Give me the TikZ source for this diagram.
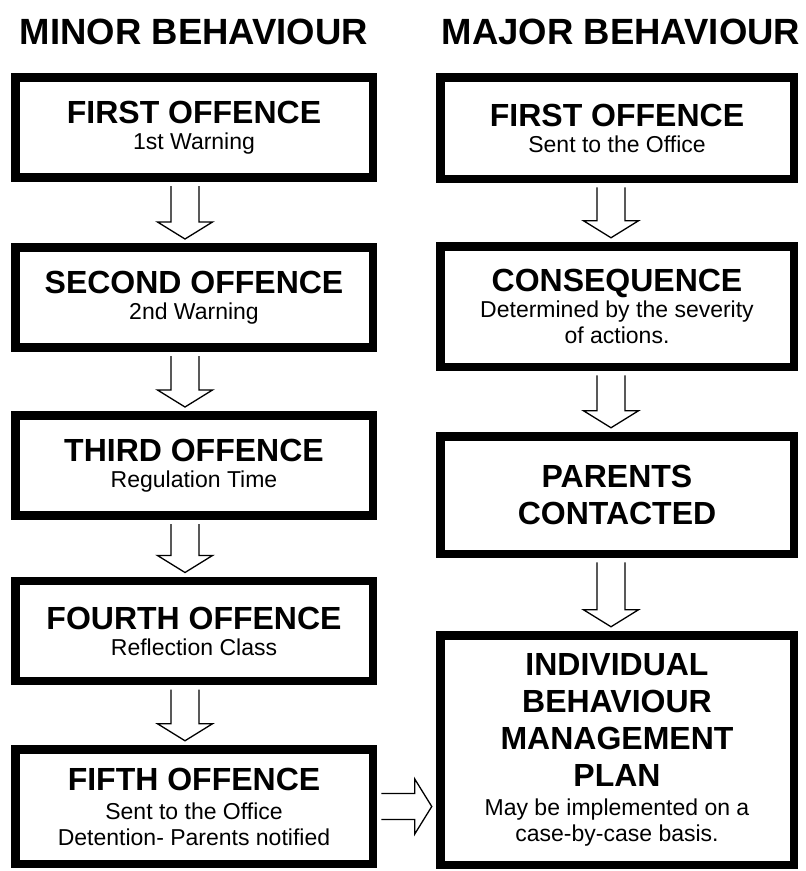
\documentclass[tikz,border=0pt]{standalone}
\usepackage{fontspec}
\setmainfont{Liberation Sans}
\usetikzlibrary{positioning, calc}

\newcommand{\hd}{\fontsize{32}{37}\selectfont\bfseries}
\newcommand{\bd}{\fontsize{23}{26}\selectfont}
\newcommand{\ttl}{\fontsize{36.5}{40}\selectfont\bfseries}

% hollow arrow between two stacked boxes: from, to, x shift
\newcommand{\hollowdown}[3]{%
  \draw[hollow] ($(#1.south)+(#3-14,4.25)$) -- ($(#2.north)+(#3-14,-21.25)$)
    -- ++(-13.5,0) -- ($(#2.north)+(#3,-4.25)$) -- ($(#2.north)+(#3+27.5,-21.25)$)
    -- ++(-13.5,0) -- ($(#1.south)+(#3+14,4.25)$);}

\begin{document}
\begin{tikzpicture}[x=1pt, y=-1pt,
    box/.style={draw, line width=8.5pt, inner sep=0pt, align=center, font=\bd},
    lbox/.style={box, minimum width=357.5pt, minimum height=100pt},
    rbox/.style={box, minimum width=353.5pt},
    hollow/.style={draw, line width=1.3pt},
    heading/.style={font=\ttl, anchor=base}]
        \useasboundingbox (0,0) rectangle (806,871);

        \node[heading] (tmin) at (194,44) {MINOR BEHAVIOUR};
        \node[heading] (tmaj) at (621,44) {MAJOR BEHAVIOUR};

        % minor column
        \node[lbox] (m1) at (194,127.5) {{\hd FIRST OFFENCE}\\1st Warning};
        \node[lbox] (m2) at (194,297.5) {{\hd SECOND OFFENCE}\\2nd Warning};
        \node[lbox] (m3) at (194,465.5) {{\hd THIRD OFFENCE}\\Regulation Time};
        \node[lbox] (m4) at (194,631)   {{\hd FOURTH OFFENCE}\\Reflection Class};
        \node[lbox, minimum height=114.5pt] (m5) at (194,806.5)
          {{\hd FIFTH OFFENCE}\\[3pt]Sent to the Office\\Detention- Parents notified};

        % major column
        \node[rbox, minimum height=101.5pt] (j1) at (617,128)
          {{\hd FIRST OFFENCE}\\Sent to the Office};
        \node[rbox, minimum height=120.5pt] (j2) at (617,306.5)
          {{\hd CONSEQUENCE}\\Determined by the severity\\of actions.};
        \node[rbox, minimum height=117.5pt] (j3) at (617,495)
          {{\hd PARENTS}\\[11pt]{\hd CONTACTED}};
        \node[rbox, minimum height=229.5pt] (j4) at (617,750)
          {{\hd INDIVIDUAL}\\[11pt]{\hd BEHAVIOUR}\\[11pt]{\hd MANAGEMENT}\\[11pt]{\hd PLAN}\\[3pt]
           May be implemented on a\\case-by-case basis.};

        \hollowdown{m1}{m2}{-9}
        \hollowdown{m2}{m3}{-9}
        \hollowdown{m3}{m4}{-9}
        \hollowdown{m4}{m5}{-9}

        \hollowdown{j1}{j2}{-6}
        \hollowdown{j2}{j3}{-6}
        \hollowdown{j3}{j4}{-6}

        \coordinate (tip) at (m5.east -| j4.west);
        \draw[hollow] ($(m5.east)+(4.25,-13)$) -- ($(tip)+(-21.25,-13)$)
          -- ++(0,-14.5) -- ($(tip)+(-4.25,0)$) -- ($(tip)+(-21.25,27.5)$)
          -- ++(0,-14.5) -- ($(m5.east)+(4.25,13)$);
      \end{tikzpicture}
\end{document}
